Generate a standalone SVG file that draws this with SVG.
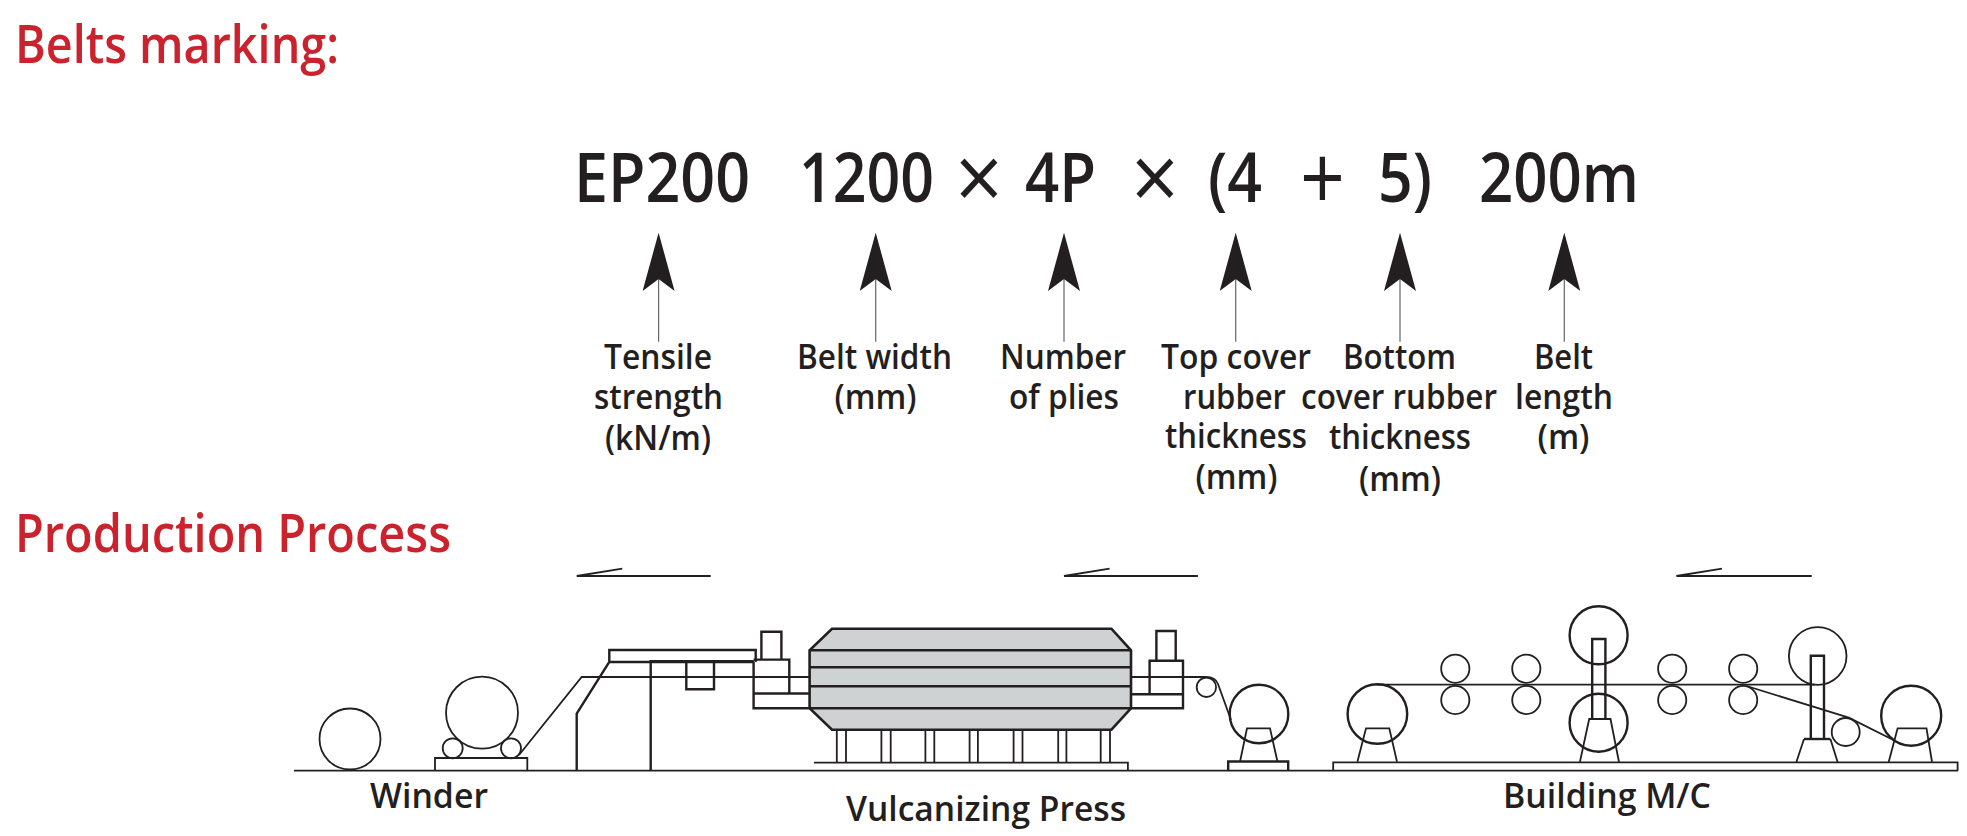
<svg xmlns="http://www.w3.org/2000/svg" width="1967" height="836" viewBox="0 0 1967 836">
<style>
text{font-family:"Open Sans","Noto Sans","Liberation Sans",sans-serif;fill:#231f20;font-weight:600}
.h{fill:#cb232d;font-size:53px}
.m{font-size:68px}
.x{font-size:90px;font-weight:400}
.l{font-size:35px}
.s{fill:none;stroke:#231f20;stroke-width:1.8}
.s2{fill:none;stroke:#231f20;stroke-width:2.4}
.lead{stroke:#666;stroke-width:1.2;fill:none;marker-end:url(#ah)}
</style>
<defs>
<marker id="ah" viewBox="0 0 58.3 32" markerUnits="userSpaceOnUse" markerWidth="58.3" markerHeight="32" refX="12" refY="16" orient="auto"><path d="M58.3 16L0 0L12 16L0 32Z" fill="#231f20"/></marker>
</defs>
<rect width="1967" height="836" fill="#fff"/>
<g id="headings">
<text class="h" x="15" y="63.3" textLength="324" lengthAdjust="spacingAndGlyphs">Belts marking:</text>
<text class="h" x="15" y="552.3" textLength="436" lengthAdjust="spacingAndGlyphs">Production Process</text>
</g>
<g id="marking">
<text class="m" x="574" y="202.3" textLength="176" lengthAdjust="spacingAndGlyphs">EP200</text>
<text class="m" x="799" y="202.3" textLength="135" lengthAdjust="spacingAndGlyphs">1200</text>
<text class="x" x="955" y="210" textLength="48" lengthAdjust="spacingAndGlyphs">×</text>
<text class="m" x="1025" y="202.3" textLength="71" lengthAdjust="spacingAndGlyphs">4P</text>
<text class="x" x="1131" y="210" textLength="48" lengthAdjust="spacingAndGlyphs">×</text>
<text class="m" x="1208" y="202.3" textLength="54" lengthAdjust="spacingAndGlyphs">(4</text>
<text class="x" x="1300" y="210" textLength="45" lengthAdjust="spacingAndGlyphs">+</text>
<text class="m" x="1378" y="202.3" textLength="54" lengthAdjust="spacingAndGlyphs">5)</text>
<text class="m" x="1479" y="202.3" textLength="160" lengthAdjust="spacingAndGlyphs">200m</text>
</g>
<g id="connectors">
<line class="lead" x1="658.6" y1="341.7" x2="658.6" y2="279"/>
<line class="lead" x1="875.7" y1="341.7" x2="875.7" y2="279"/>
<line class="lead" x1="1064" y1="341.7" x2="1064" y2="279"/>
<line class="lead" x1="1235.7" y1="341.7" x2="1235.7" y2="279"/>
<line class="lead" x1="1400" y1="341.7" x2="1400" y2="279"/>
<line class="lead" x1="1564.3" y1="341.7" x2="1564.3" y2="279"/>
</g>
<g id="label-tensile">
<text class="l" x="604" y="369.3" textLength="108" lengthAdjust="spacingAndGlyphs">Tensile</text>
<text class="l" x="594" y="409.3" textLength="129" lengthAdjust="spacingAndGlyphs">strength</text>
<text class="l" x="605" y="450" textLength="106" lengthAdjust="spacingAndGlyphs">(kN/m)</text>
</g>
<g id="label-width">
<text class="l" x="797" y="368.7" textLength="155" lengthAdjust="spacingAndGlyphs">Belt width</text>
<text class="l" x="834.5" y="408.7" textLength="82" lengthAdjust="spacingAndGlyphs">(mm)</text>
</g>
<g id="label-plies">
<text class="l" x="1000" y="368.7" textLength="126" lengthAdjust="spacingAndGlyphs">Number</text>
<text class="l" x="1009" y="408.7" textLength="110" lengthAdjust="spacingAndGlyphs">of plies</text>
</g>
<g id="label-top">
<text class="l" x="1161" y="368.7" textLength="150" lengthAdjust="spacingAndGlyphs">Top cover</text>
<text class="l" x="1183" y="408.7" textLength="103" lengthAdjust="spacingAndGlyphs">rubber</text>
<text class="l" x="1165" y="448.3" textLength="142" lengthAdjust="spacingAndGlyphs">thickness</text>
<text class="l" x="1195.5" y="489.3" textLength="82" lengthAdjust="spacingAndGlyphs">(mm)</text>
</g>
<g id="label-bottom">
<text class="l" x="1343" y="368.7" textLength="113" lengthAdjust="spacingAndGlyphs">Bottom</text>
<text class="l" x="1301" y="408.7" textLength="196" lengthAdjust="spacingAndGlyphs">cover rubber</text>
<text class="l" x="1329" y="449.3" textLength="142" lengthAdjust="spacingAndGlyphs">thickness</text>
<text class="l" x="1359" y="490.7" textLength="82" lengthAdjust="spacingAndGlyphs">(mm)</text>
</g>
<g id="label-length">
<text class="l" x="1534" y="368.7" textLength="59" lengthAdjust="spacingAndGlyphs">Belt</text>
<text class="l" x="1515" y="408.7" textLength="98" lengthAdjust="spacingAndGlyphs">length</text>
<text class="l" x="1537.5" y="449.3" textLength="52" lengthAdjust="spacingAndGlyphs">(m)</text>
</g>
<g id="flow-arrows">
<path class="s" d="M710.7 576H576.7L622.3 568.7"/>
<path class="s" d="M1197.9 576H1064L1109.6 568.7"/>
<path class="s" d="M1811.7 576H1676.4L1722 568.7"/>
</g>
<g id="ground"><path class="s" d="M294 770.7H1958"/></g>
<g id="winder">
<circle class="s" cx="350" cy="739" r="30.5"/>
<circle class="s" cx="482" cy="712.7" r="36"/>
<circle class="s" cx="452.7" cy="748.3" r="10"/>
<circle class="s" cx="511" cy="748.3" r="10"/>
<path class="s" d="M435 770.7V758H527.3V770.7"/>
<path class="s" d="M519 755L581.7 677H810"/>
<text class="l" x="370" y="808.3" textLength="118" lengthAdjust="spacingAndGlyphs">Winder</text>
</g>
<g id="press-entry">
<path class="s2" d="M576.7 770.7V713.7L609.3 662V650H755.7V662M609.3 662H754"/>
<path class="s2" d="M650.7 770.7V661.3H686.3V689.3H714V661.3"/>
<path class="s2" d="M686.3 661.3H753.6"/>
</g>
<g id="press">
<path d="M832 628.7H1111.4L1131 650.3V708.3L1111.4 729.7H832L809.6 708.3V650.3Z" fill="#cfd2d2" stroke="#231f20" stroke-width="2.6"/>
<path class="s2" d="M809.6 650.3H1131M809.6 667.3H1131M809.6 686.3H1131M809.6 708.3H1131"/>
<path class="s" d="M836.8 730V763M846 730V763M881.4 730V763M890.7 730V763M925.4 730V763M934.3 730V763M969.6 730V763M977.9 730V763M1013.6 730V763M1022.5 730V763M1058.2 730V763M1066.4 730V763M1100.7 730V763M1110 730V763"/>
<path class="s" d="M814 762.7H1127.9V770.7"/>
<path class="s2" d="M753.6 662V708.3H809.6M753.6 693.5H809.6M753.6 659.6H789.3V693.5"/>
<path class="s" d="M753.6 677H809.6"/>
<path class="s2" d="M761.4 660V631.7H781.4V660"/>
<path class="s2" d="M1131 694.3H1183M1131 708.3H1183V660.7H1149.6V694.3"/>
<path class="s2" d="M1156.4 660.7V631H1175.7V660.7"/>
<text class="l" x="846" y="820.7" textLength="280" lengthAdjust="spacingAndGlyphs">Vulcanizing Press</text>
</g>
<g id="let-off">
<circle class="s" cx="1206.4" cy="687.3" r="9.7"/>
<path class="s" d="M1131 677H1206C1212 677 1216 679 1218 684L1231 720"/>
<circle class="s2" cx="1259" cy="714" r="29.3"/>
<path class="s" d="M1240 761.7L1247 728.3H1270L1277.5 761.7"/>
<path class="s2" d="M1228.2 770.7V761.5H1288.2V770.7"/>
</g>
<g id="building">
<path class="s" d="M1333.2 770.7V762.3H1957.6V770.7"/>
<path class="s" d="M1376.6 684.7H1814.7"/>
<circle class="s2" cx="1377.4" cy="714" r="29.8"/>
<path class="s" d="M1357.4 761.7L1366 728.3H1389.3L1397 761.7"/>
<circle class="s" cx="1455.3" cy="668.7" r="14.1"/><circle class="s" cx="1455.3" cy="700" r="14.1"/>
<circle class="s" cx="1526.3" cy="668.7" r="14.1"/><circle class="s" cx="1526.3" cy="700" r="14.1"/>
<circle class="s" cx="1672.2" cy="668.7" r="14.1"/><circle class="s" cx="1672.2" cy="700" r="14.1"/>
<circle class="s" cx="1743.2" cy="668.7" r="14.1"/><circle class="s" cx="1743.2" cy="700" r="14.1"/>
<circle class="s2" cx="1598.6" cy="635.3" r="29"/>
<circle class="s2" cx="1598.6" cy="722.7" r="29"/>
<path class="s2" d="M1592.2 719V639H1605.4V719"/>
<path class="s" d="M1579.9 762L1589.2 719H1610.5L1619 762"/>
<circle class="s" cx="1817.7" cy="656" r="28.8"/>
<path class="s2" d="M1810.8 739V655.7H1824V739"/>
<path class="s2" d="M1804 739H1830.4"/>
<path class="s" d="M1796.4 762L1804 739M1830.4 739L1837.6 762"/>
<circle class="s" cx="1845.7" cy="732" r="14"/>
<circle class="s2" cx="1911.2" cy="715.7" r="30"/>
<path class="s" d="M1888.7 762L1897.6 728.3H1926.5L1932 762"/>
<path class="s" d="M1746.6 686L1848.7 717.7L1893.4 740"/>
<text class="l" x="1503" y="808.3" textLength="208" lengthAdjust="spacingAndGlyphs">Building M/C</text>
</g>
</svg>
